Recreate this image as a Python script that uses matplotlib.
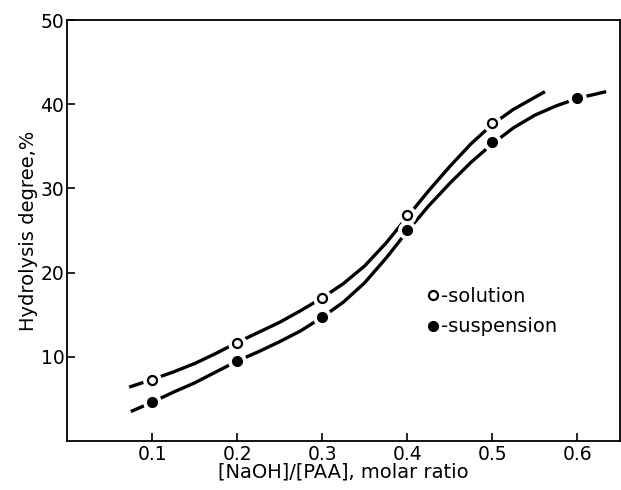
import matplotlib
matplotlib.use("Agg")
from matplotlib import pyplot as plt

# measured points
x_solution = [0.1, 0.2, 0.3, 0.4, 0.5]
y_solution = [7.3, 11.7, 17.0, 26.8, 37.8]
x_suspension = [0.1, 0.2, 0.3, 0.4, 0.5, 0.6]
y_suspension = [4.6, 9.5, 14.7, 25.1, 35.5, 40.7]

# hand-drawn curves
sol_curve_x = [0.073, 0.1, 0.125, 0.15, 0.175, 0.2, 0.225, 0.25, 0.275, 0.3,
               0.325, 0.35, 0.375, 0.4, 0.425, 0.45, 0.475, 0.5, 0.525, 0.562]
sol_curve_y = [6.4, 7.3, 8.2, 9.2, 10.4, 11.7, 12.9, 14.1, 15.5, 17.0,
               18.7, 20.8, 23.5, 26.6, 29.7, 32.6, 35.3, 37.6, 39.4, 41.5]
susp_curve_x = [0.075, 0.1, 0.125, 0.15, 0.175, 0.2, 0.225, 0.25, 0.275, 0.3,
                0.325, 0.35, 0.375, 0.4, 0.425, 0.45, 0.475, 0.5, 0.525, 0.55,
                0.575, 0.6, 0.634]
susp_curve_y = [3.5, 4.6, 5.8, 6.9, 8.2, 9.5, 10.6, 11.8, 13.1, 14.7,
                16.5, 18.8, 21.7, 24.9, 27.9, 30.6, 33.1, 35.3, 37.2, 38.7,
                39.8, 40.7, 41.5]

x_ticks = [0.1, 0.2, 0.3, 0.4, 0.5, 0.6]
x_ticklabels = ["0.1", "0.2", "0.3", "0.4", "0.5", "0.6"]
y_ticks = [10, 20, 30, 40, 50]

plt.rcParams["font.family"] = "DejaVu Sans"
plt.rcParams["font.size"] = 13.5

fig = plt.figure(figsize=(6.21, 4.9), dpi=100)
ax = fig.add_axes([0.108, 0.100, 0.89, 0.859])

lw = 2.4
ax.plot(sol_curve_x, sol_curve_y, color="black", lw=lw, solid_capstyle="butt", zorder=2)
ax.plot(susp_curve_x, susp_curve_y, color="black", lw=lw, solid_capstyle="butt", zorder=2)

# white discs make the gaps round the markers
ax.plot(x_solution, y_solution, "o", ms=12.5, color="white", mec="white", zorder=3)
ax.plot(x_suspension, y_suspension, "o", ms=12.5, color="white", mec="white", zorder=3)

h1, = ax.plot(x_solution, y_solution, "o", ms=6.5, mfc="white", mec="black", mew=1.6, zorder=4)
h2, = ax.plot(x_suspension, y_suspension, "o", ms=7, mfc="black", mec="black", zorder=4)

ax.legend([h1, h2], ["-solution", "-suspension"], loc="upper left",
          bbox_to_anchor=(0.64, 0.385), frameon=False, handlelength=0.5,
          handletextpad=0.15, labelspacing=0.6, borderaxespad=0, fontsize=14)

ax.set_xlim(0, 0.65)
ax.set_ylim(0, 50)
ax.set_xticks(x_ticks)
ax.set_xticklabels(x_ticklabels)
ax.set_yticks(y_ticks)
ax.tick_params(direction="in", length=6, width=1.2)
ax.tick_params(axis="x", pad=3)
ax.tick_params(axis="y", pad=2)
for s in ax.spines.values():
    s.set_linewidth(1.3)

ax.set_xlabel("[NaOH]/[PAA], molar ratio", labelpad=-1, fontsize=14)
ax.set_ylabel("Hydrolysis degree,%", labelpad=2, fontsize=14)

fig.savefig("out.png", dpi=100)
